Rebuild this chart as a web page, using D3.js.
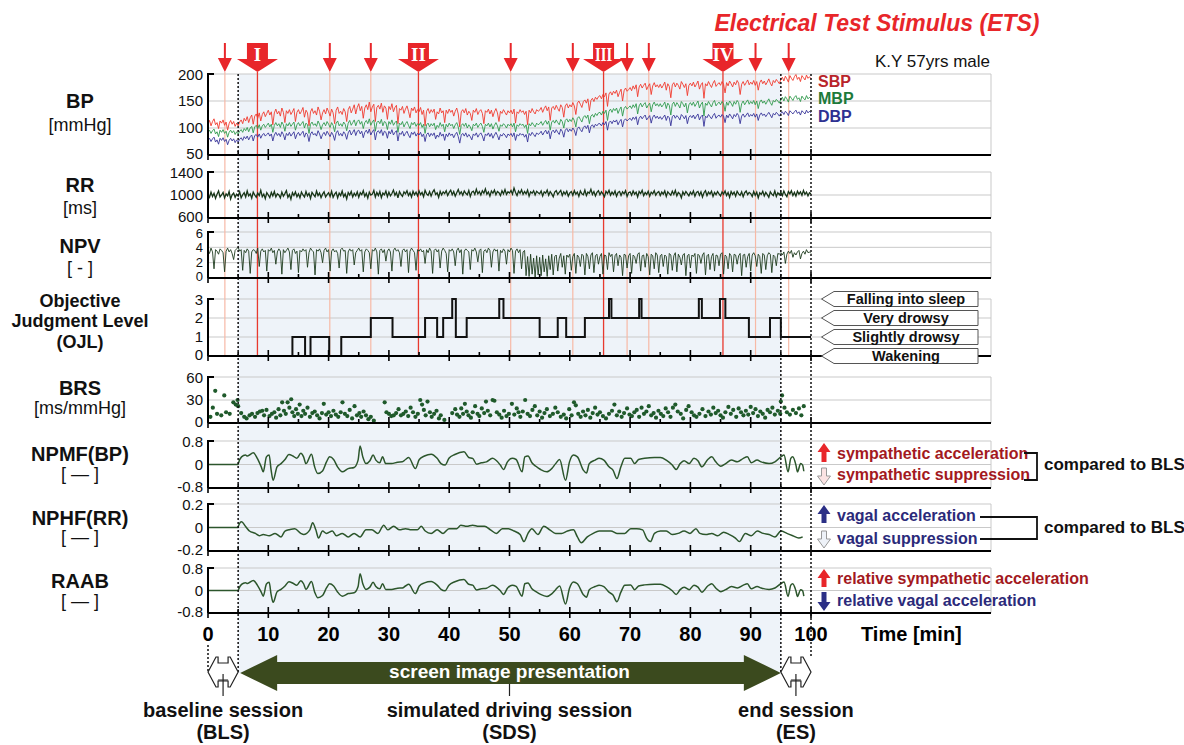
<!DOCTYPE html>
<html>
<head>
<meta charset="utf-8">
<script src="https://cdn.jsdelivr.net/npm/d3@7"></script>
<style>
  body { margin: 0; background: #fff; }
  svg { display: block; font-family: "Liberation Sans", Arial, sans-serif; }
</style>
</head>
<body>
<svg id="chart" width="1184" height="745"></svg>
<script>
// ---------------- data ----------------
const step = 0.25; // minutes between samples of the beat-to-beat traces

const sbp = [
  108,114,104,112,117,106,110,99,113,109,115,105,111,96,108,114,107,112,103,109,
  104,111,115,108,118,113,121,110,119,124,107,122,126,118,128,113,125,130,121,127,
  133,124,130,106,128,135,126,131,122,137,129,110,132,127,134,125,130,136,112,129,
  134,126,131,138,120,133,128,104,130,136,127,132,124,139,131,115,128,134,126,137,
  130,122,135,128,108,133,139,127,131,125,136,130,112,134,140,128,135,143,126,138,
  145,132,140,118,137,143,134,148,130,139,144,112,138,142,135,146,129,141,137,116,
  140,134,145,130,138,142,108,136,133,140,127,135,141,131,119,137,132,139,128,134,
  130,138,125,133,104,131,136,127,134,129,135,116,130,126,137,128,132,110,133,127,
  135,129,133,122,131,137,126,102,130,134,128,136,124,131,127,114,133,129,136,125,
  131,134,127,108,132,129,135,126,133,121,130,136,128,112,131,127,134,129,124,132,
  128,133,126,135,109,130,127,134,129,132,125,131,106,133,128,136,130,126,134,131,
  133,138,129,136,141,132,139,114,137,140,134,142,136,131,143,138,120,141,145,137,
  143,139,147,141,125,146,150,144,138,149,152,146,154,132,151,155,149,157,153,158,
  160,154,162,158,165,140,163,167,161,168,164,170,158,166,172,150,169,174,168,171,
  175,169,178,172,180,158,176,181,174,179,183,171,177,182,162,178,184,176,180,175,
  181,174,179,185,170,182,177,156,180,184,176,183,179,172,186,181,175,182,160,179,
  183,178,185,176,181,187,172,180,184,155,182,178,186,180,175,183,188,177,181,184,
  179,186,181,165,184,178,187,182,176,185,180,188,183,162,181,186,179,184,189,180,
  185,181,188,179,186,170,184,189,182,187,180,185,191,183,178,188,184,190,186,182,
  190,194,187,196,191,185,197,192,188,195,199,190,194,186,197,193,189,198,192,195,
  191
];
const mbp = [
  93,96,90,95,98,89,93,84,96,92,97,90,94,83,92,96,91,95,88,93,
  89,94,97,92,99,95,101,93,100,103,91,102,105,99,106,96,104,107,101,105,
  109,102,107,92,105,110,104,108,101,111,106,94,108,104,110,103,107,111,96,106,
  110,104,108,112,100,109,106,90,107,111,105,108,103,113,107,97,106,110,104,112,
  107,101,110,105,93,109,113,104,108,103,111,107,95,109,114,105,110,115,104,112,
  115,107,112,99,110,114,108,117,105,111,115,94,110,113,108,116,104,112,110,97,
  112,107,115,105,110,113,92,109,106,112,102,108,112,105,99,110,106,111,103,108,
  105,110,101,107,90,106,109,102,108,104,109,97,105,101,110,103,107,93,107,102,
  109,104,107,99,106,110,102,88,105,108,103,109,100,106,102,95,107,104,109,101,
  106,109,103,92,107,104,109,102,108,98,105,110,104,94,106,103,108,105,100,107,
  104,108,102,109,93,106,103,108,105,107,101,106,90,108,104,110,106,102,109,106,
  108,112,105,110,114,107,113,96,111,114,109,115,110,106,116,112,100,114,117,111,
  116,112,119,114,102,118,121,116,111,120,123,118,124,108,122,125,120,127,123,128,
  129,124,131,127,133,114,131,135,129,136,132,137,127,134,139,122,136,140,135,138,
  141,136,143,138,145,126,141,146,139,144,147,137,142,146,130,143,148,141,145,140,
  145,139,143,148,136,146,142,124,144,148,140,147,143,137,149,145,139,146,128,143,
  147,142,148,140,145,150,137,144,148,122,146,142,149,144,139,147,151,141,145,148,
  143,149,145,131,148,142,150,146,140,149,144,151,147,129,145,150,143,148,152,144,
  149,145,151,143,150,136,148,152,146,150,144,149,154,147,142,151,148,153,150,146,
  153,157,150,158,154,148,159,155,151,157,160,153,156,149,159,155,152,160,154,157,
  154
];
const dbp = [
  78,81,75,80,83,74,78,70,81,77,82,75,79,69,77,81,76,80,73,78,
  74,79,82,77,84,80,85,78,84,87,76,86,88,83,89,81,87,90,85,88,
  91,85,89,76,87,92,86,90,84,93,88,78,90,86,92,85,89,93,80,88,
  92,86,90,94,83,91,88,75,89,93,87,90,85,95,89,80,88,92,86,94,
  89,84,92,87,77,91,95,86,90,85,93,89,79,91,96,87,92,97,86,94,
  96,89,94,82,92,96,90,98,87,93,97,78,92,95,90,97,86,94,92,81,
  94,89,97,87,92,95,76,91,88,94,85,90,94,87,82,92,88,93,85,90,
  87,92,84,89,75,88,91,84,90,86,91,80,87,83,92,85,89,77,89,84,
  91,86,89,82,88,92,84,72,87,90,85,91,83,88,84,78,89,86,91,83,
  88,91,85,76,89,86,91,84,90,81,87,92,86,78,88,85,90,87,82,89,
  86,90,84,91,77,88,85,90,87,89,83,88,74,90,86,92,88,84,91,88,
  90,94,87,92,96,89,95,80,93,96,91,97,92,88,98,94,83,96,99,93,
  98,94,100,96,86,99,102,97,93,101,104,99,105,91,103,106,101,107,104,108,
  108,104,110,106,112,96,110,113,108,114,111,115,106,112,116,102,114,117,113,116,
  118,114,120,116,121,106,118,122,117,121,124,115,119,123,109,120,124,118,122,117,
  121,116,120,124,114,122,119,104,121,124,118,123,120,115,125,122,117,123,108,120,
  123,119,124,117,122,126,115,121,124,103,122,119,125,121,117,123,127,118,122,124,
  120,125,122,110,124,119,126,122,117,125,121,127,123,108,122,126,120,124,128,121,
  125,122,127,120,126,114,124,128,123,126,121,125,129,124,119,127,124,129,126,122,
  127,130,125,131,128,123,132,129,126,130,133,127,130,124,132,129,126,133,128,131,
  128
];
const rr = [
  1005,960,1050,975,1030,940,1015,1070,965,1000,1045,950,1020,985,1060,930,1005,1035,960,1015,
  980,1055,950,1005,1040,965,1070,985,1020,945,1050,1000,960,1035,990,1080,970,1015,935,1040,
  1000,955,1045,985,1060,965,1020,1000,950,1050,980,1025,1075,960,1010,925,1040,990,1055,970,
  1020,950,1050,1000,965,1060,985,1030,940,1045,1005,970,1070,990,1035,955,1015,1055,965,1005,
  1040,975,1065,960,1015,1050,950,1035,990,1070,970,1020,930,1045,1000,1060,965,1030,985,1055,
  960,1040,1005,1075,975,1030,945,1050,1000,1015,1080,965,1045,990,1060,955,1035,1005,1070,970,
  1050,985,1025,1085,995,1045,950,1060,1010,975,1055,1020,1075,990,1040,965,1065,1005,1050,985,
  1070,1005,1045,970,1080,1020,995,1060,980,1050,1090,1010,1040,960,1065,1000,1055,1025,1075,990,
  1045,1085,1005,1060,980,1040,1095,1015,1055,995,1070,1030,1005,1080,975,1050,1065,1010,1100,1020,
  1060,1000,1075,1030,1105,1015,1055,980,1070,1030,1085,1005,1060,1040,990,1075,1020,1095,1010,1055,
  1035,1080,1015,1120,1045,990,1070,1030,1090,1010,1060,1020,1085,980,1055,1030,1075,1000,1065,1040,
  1020,1070,985,1055,1030,1085,995,1060,1020,970,1050,1075,1010,1045,1080,990,1055,1015,1065,980,
  1035,1060,995,1075,1015,1050,975,1070,1020,1005,1085,990,1050,1030,1100,1010,1060,985,1045,1075,
  1005,1055,1020,970,1065,1025,1080,995,1050,1010,1070,980,1045,1060,990,1055,1020,1075,975,1040,
  1055,995,1070,1015,1050,965,1060,1025,1080,990,1045,1010,1065,980,1050,1020,1075,995,1040,1060,
  990,1050,1015,1070,975,1055,1025,995,1065,1010,1080,985,1045,1020,950,1055,1005,1060,1025,985,
  1050,1010,1070,980,1045,1060,995,1055,965,1040,1075,990,1050,1015,1065,975,1045,1005,1060,1020,
  985,1055,1015,1070,990,1045,960,1060,1010,1050,980,1065,1020,995,1055,970,1040,1070,1005,1045,
  1025,975,1060,995,1050,950,1040,1010,1065,985,1045,1005,960,1055,1015,990,1070,975,1040,1005,
  1050,990,1070,1010,970,1060,1020,1075,990,1045,980,1065,1015,1055,995,1080,1010,1050,985,1040,
  1020
];
const npv = [
  3.6,3.2,3.9,3.4,1.2,3.7,3.5,3.1,3.8,3.6,3.3,0.8,3.5,3.9,3.4,3.7,3.2,2.4,3.6,3.8,
  4.0,3.5,3.7,1.0,3.6,3.3,3.8,3.5,0.6,3.4,3.7,3.6,3.2,3.9,1.5,3.5,3.8,3.4,3.6,0.9,
  3.7,3.5,3.9,3.3,3.6,1.8,3.4,3.8,3.5,0.5,3.7,3.3,3.6,3.9,3.4,1.1,3.6,3.8,3.2,3.5,
  0.7,3.6,3.4,3.8,3.5,3.7,1.4,3.3,3.9,3.6,3.4,0.4,3.7,3.5,3.8,3.3,2.0,3.6,3.9,3.4,
  3.7,0.9,3.5,3.8,3.4,3.6,3.2,1.3,3.7,3.9,3.5,3.6,0.6,3.4,3.8,3.5,3.7,1.7,3.3,3.6,
  3.9,3.5,3.7,0.8,3.4,3.8,3.6,3.3,1.2,3.7,3.5,3.9,3.4,0.5,3.6,3.8,3.3,3.7,2.2,3.5,
  3.8,3.4,0.9,3.6,3.9,3.5,3.7,3.3,1.5,3.6,3.8,3.4,3.7,0.7,3.5,3.9,3.6,3.3,1.0,3.7,
  3.5,3.8,3.4,3.6,1.9,3.7,3.3,3.9,3.5,0.6,3.6,3.8,3.4,3.7,1.3,3.5,3.9,3.6,3.2,0.8,
  3.7,3.5,3.8,3.4,1.6,3.6,3.9,3.3,3.7,0.5,3.5,3.8,3.6,3.4,1.1,3.7,3.5,3.9,3.4,2.1,
  3.6,3.8,0.7,3.5,3.7,3.3,3.9,3.6,1.4,3.4,3.8,3.5,3.7,0.9,3.6,3.3,3.8,3.5,1.8,3.7,
  3.4,3.9,3.6,0.6,3.5,3.8,3.3,3.7,1.2,3.4,3.6,0.3,2.8,0.2,3.1,0.5,2.6,0.1,2.9,0.4,
  2.7,0.3,3.0,0.8,2.5,0.2,2.9,1.1,3.1,0.4,2.8,3.0,0.9,2.6,3.2,1.4,2.9,0.5,3.0,2.7,
  3.1,1.0,2.8,3.2,0.6,3.0,2.7,1.5,3.1,2.9,0.4,3.2,2.8,1.2,3.0,3.3,0.7,2.9,3.1,1.8,
  2.8,3.2,0.5,3.0,2.9,1.1,3.3,2.8,3.1,0.8,2.9,3.2,1.6,3.0,2.7,0.3,3.1,3.0,1.3,2.9,
  3.2,0.6,3.0,2.8,1.9,3.1,3.3,0.9,2.9,3.0,1.4,3.2,2.8,0.4,3.1,2.9,1.2,3.3,3.0,0.7,
  2.9,3.1,1.5,3.0,2.8,0.5,3.2,3.0,1.0,2.9,3.3,0.8,3.1,2.7,1.7,3.0,3.2,0.3,2.9,3.1,
  1.3,3.0,2.8,3.2,0.6,3.1,2.9,1.9,3.0,3.3,0.4,2.9,3.1,1.1,2.8,3.2,0.9,3.0,2.9,1.6,
  3.1,3.3,0.5,3.0,2.8,1.2,3.2,2.9,0.8,3.1,3.0,1.8,2.9,3.2,0.3,3.0,3.1,1.4,2.8,3.2,
  0.9,3.0,3.3,2.9,1.5,3.1,2.8,0.6,3.2,3.0,1.1,2.9,3.3,3.1,0.7,3.0,2.8,1.6,3.2,3.1,
  3.3,3.0,3.4,1.9,3.1,3.5,3.2,3.6,2.7,3.3,3.0,3.4,3.6,2.5,3.2,3.5,3.1,3.7,3.3,3.4,
  3.2
];

// objective judgment level: level held from each time until the next
const ojlTime  = [0,14.0,16.1,17.0,20.1,22.1,27.0,30.6,36.0,38.0,39.0,40.5,41.1,42.9,48.3,49.0,55.0,58.0,59.4,62.5,66.5,66.9,71.5,71.9,81.4,81.9,84.9,85.8,89.7,93.2,95.0,100];
const ojlLevel = [0,1,0,1,0,1,2,1,2,1,2,3,1,2,3,2,1,2,1,2,3,2,3,2,3,2,3,2,1,2,1,1];
const ojlNames = ['Wakening', 'Slightly drowsy', 'Very drowsy', 'Falling into sleep'];

// baroreflex sensitivity [time, value]
const brs = [
  [0.4,8],[0.8,20],[1.2,42],[1.5,12],[2.2,10],[2.7,36],[3.0,14],[3.6,12],[4.2,27],[4.6,24],[4.9,30],[5.0,22],
  [5.5,13],[6.0,8],[6.4,6],[6.9,10],[7.3,12],[7.8,8],[8.2,13],[8.6,15],[9.0,16],[9.3,10],[9.7,17],
  [10.2,9],[10.6,12],[11.0,14],[11.3,7],[11.7,18],[12.0,10],[12.3,27],[12.6,16],[12.9,12],[13.2,27],[13.5,20],[13.8,31],[14.0,14],[14.3,9],[14.6,18],[14.9,12],
  [15.2,24],[15.5,9],[15.8,16],[16.1,12],[16.5,20],[16.9,8],[17.3,13],[17.7,15],[18.1,10],[18.5,6],[18.9,13],[19.2,25],[19.6,11],[20.0,14],
  [20.4,9],[20.8,16],[21.2,11],[21.6,8],[22.0,14],[22.3,27],[22.7,12],[23.1,9],[23.5,17],[23.9,6],[24.3,22],[24.7,10],[25.1,13],[25.4,8],
  [25.8,15],[26.2,10],[26.6,5],[27.0,8],[27.5,3],[29.3,27],[29.6,14],[30.0,12],[30.4,9],[30.8,10],[31.2,13],
  [31.6,18],[32.0,10],[32.4,12],[32.8,15],[33.2,9],[33.6,20],[34.0,14],[34.4,8],[34.8,12],
  [35.2,30],[35.5,24],[35.8,17],[36.1,10],[36.4,28],[36.8,14],[37.1,8],[37.5,12],[37.9,16],[38.3,6],[38.6,10],[39.2,4],
  [40.5,13],[41.0,18],[41.3,11],[41.7,8],[42.0,19],[42.3,12],[42.6,25],[42.9,15],[43.2,10],[43.6,7],[43.9,14],[44.3,22],[44.7,12],[45.0,9],
  [45.4,19],[45.8,13],[46.1,28],[46.4,16],[46.8,10],[47.2,30],[47.5,29],[47.9,14],[48.3,11],[48.7,7],[49.1,16],[49.5,9],[49.9,12],
  [50.4,25],[50.8,11],[51.2,19],[51.5,14],[51.8,8],[52.2,15],[52.6,30],[53.0,12],[53.4,9],[53.8,17],[54.2,22],[54.6,10],[55.0,15],
  [55.4,7],[55.8,13],[56.2,18],[56.7,9],[57.2,12],[57.6,20],[58.0,14],[58.5,8],[59.0,11],[59.4,6],[59.9,18],[60.3,10],
  [60.7,27],[61.0,23],[61.4,12],[61.8,8],[62.2,15],[62.6,10],[63.0,17],[63.4,7],[63.8,13],[64.2,20],[64.6,11],[65.0,14],
  [65.5,9],[66.0,6],[66.5,12],[67.0,16],[67.4,24],[67.8,10],[68.2,15],[68.6,8],[69.0,13],[69.5,19],[69.9,11],
  [70.3,9],[70.7,14],[71.1,17],[71.5,8],[71.9,20],[72.3,12],[72.7,15],[73.1,22],[73.5,10],[73.9,13],[74.3,7],[74.7,16],
  [75.1,12],[75.5,9],[75.9,19],[76.3,14],[76.7,8],[77.1,20],[77.5,24],[77.9,15],[78.4,12],[78.8,6],[79.3,17],[79.7,22],
  [80.2,14],[80.6,10],[81.0,8],[81.5,12],[82.0,18],[82.5,9],[83.0,15],[83.4,11],[83.8,20],[84.2,13],[84.6,16],
  [85.0,10],[85.4,7],[85.8,14],[86.3,21],[86.7,12],[87.1,17],[87.6,8],[88.0,19],[88.4,14],[88.8,10],[89.2,16],[89.6,11],
  [90.0,21],[90.4,13],[90.8,18],[91.2,9],[91.6,15],[92.0,12],[92.4,7],[92.8,17],[93.2,14],[93.6,20],[94.0,11],[94.5,16],[94.9,12],
  [95.0,28],[95.2,36],[95.6,20],[96.0,14],[96.5,11],[97.0,17],[97.5,13],[98.0,19],[98.4,10],[98.8,22]
];

// normalized power of mid-frequency BP [time, value]
const npmf = [
  [0,0],[5,0],[5.03,0.03],[5.56,0.26],[6.21,0.32],[6.54,0.29],[7.52,0.40],[8.18,0.21],[8.83,-0.08],[9.16,-0.25],
  [9.69,0.26],[10.14,0.32],[10.47,-0.19],[10.80,-0.54],[11.45,-0.08],[12.11,0.03],[12.77,0.17],[13.42,0.34],[14.08,0.29],[14.73,0.21],
  [15.39,0.38],[15.85,0.26],[16.24,0.03],[17.16,0.35],[17.68,-0.08],[18.21,-0.31],[18.99,-0.22],[19.65,0.09],[20.17,0.26],[20.83,0.17],
  [21.48,-0.08],[22.27,-0.25],[23.25,-0.14],[24.23,-0.10],[24.89,0.15],[25.22,0.63],[25.67,0.26],[26.20,0.03],[26.85,0.13],[27.38,0.32],
  [27.84,0.15],[28.49,0.06],[28.95,0.26],[29.47,0.03],[30.46,0.03],[31.44,0.08],[32.23,0.09],[32.75,0.17],[33.28,0.24],[34.39,-0.14],
  [35.04,0.17],[35.90,0.29],[37.01,0.35],[38.00,0.21],[38.65,0.03],[39.31,-0.02],[39.96,0.21],[40.94,0.34],[42.45,0.43],[43.24,0.24],
  [43.89,0.21],[44.55,0.01],[45.33,0.06],[46.18,0.09],[47.17,0.21],[48.48,-0.02],[49.00,-0.17],[49.66,0.09],[50.44,0.21],[51.10,0.17],
  [52.08,-0.25],[52.54,0.26],[53.07,0.29],[53.72,0.06],[54.38,-0.06],[55.16,-0.17],[56.21,-0.25],[57.00,-0.14],[57.65,0.03],[58.31,0.17],
  [59.29,-0.54],[59.95,0.09],[60.60,0.32],[61.26,0.26],[62.24,-0.19],[62.77,-0.29],[63.23,0.03],[64.21,0.15],[64.86,0.21],[65.65,0.15],
  [66.50,-0.08],[67.16,-0.19],[67.81,-0.48],[68.47,-0.08],[69.12,0.21],[70.10,0.21],[70.76,0.03],[71.41,0.17],[72.40,0.21],[74.04,0.24],
  [75.02,0.24],[76.00,0.15],[76.99,-0.02],[77.64,-0.17],[78.30,0.03],[78.95,0.13],[79.80,0.03],[80.59,0.21],[81.25,0.13],[81.90,-0.08],
  [82.88,0.17],[83.54,0.26],[84.20,0.09],[85.05,-0.06],[85.84,0.03],[86.82,0.15],[87.80,0.09],[88.78,0.21],[89.44,0.26],[90.10,0.06],
  [91.07,0.15],[91.73,0.09],[93.04,0.03],[94.02,0.09],[95.00,0.26],[95.53,0.32],[96.19,-0.25],[96.65,0.21],[96.97,0.26],[97.50,-0.02],
  [97.76,-0.25],[98.28,0.03],[98.61,-0.02],[98.81,-0.23]
];

// normalized power of high-frequency RR [time, value]
const nphf = [
  [0,0],[5,0],[5.03,0.01],[5.56,0.05],[6.21,0.01],[6.87,-0.03],[7.85,-0.05],[8.51,-0.07],[9.16,-0.06],[10.14,-0.07],
  [11.13,-0.05],[12.11,-0.08],[12.77,-0.03],[13.42,-0.02],[14.40,-0.01],[15.39,-0.05],[15.85,-0.06],[16.89,-0.02],[17.35,0.04],[17.88,-0.02],
  [18.34,-0.09],[18.99,-0.03],[19.65,-0.05],[20.63,-0.03],[21.28,-0.07],[22.27,-0.05],[23.25,-0.08],[24.23,-0.05],[25.22,-0.08],[26.20,-0.02],
  [27.18,-0.02],[28.17,-0.05],[29.15,0.02],[29.80,-0.02],[30.79,0.01],[31.77,-0.02],[32.75,-0.01],[33.74,-0.02],[34.72,-0.02],[35.37,0.01],
  [36.03,-0.03],[37.01,-0.05],[38.00,-0.02],[38.98,-0.05],[39.96,-0.01],[41.27,-0.01],[41.93,0.02],[42.91,0.01],[43.89,0.02],[44.88,0.01],
  [45.86,0.01],[46.84,-0.02],[47.83,-0.05],[48.81,-0.01],[49.79,-0.01],[50.77,-0.03],[51.76,-0.06],[52.41,-0.12],[53.07,-0.05],[53.72,-0.01],
  [54.71,-0.06],[55.69,0.01],[56.67,-0.02],[57.65,-0.05],[58.64,-0.05],[59.62,-0.03],[60.60,-0.02],[61.26,-0.08],[61.91,-0.13],[62.90,-0.08],
  [63.88,-0.05],[64.86,-0.03],[65.85,-0.03],[66.83,-0.03],[67.81,-0.05],[69.12,-0.05],[70.10,-0.01],[71.09,-0.01],[72.07,-0.02],[72.73,-0.09],
  [73.38,-0.12],[74.04,-0.05],[75.02,-0.03],[76.00,-0.03],[76.99,-0.06],[77.97,-0.05],[78.95,-0.03],[79.93,-0.05],[80.92,-0.01],[81.57,-0.05],
  [82.56,-0.06],[83.54,-0.05],[84.52,-0.07],[85.51,-0.04],[86.49,-0.06],[87.47,-0.09],[88.13,-0.12],[89.11,-0.05],[90.10,-0.07],[91.08,-0.03],
  [92.07,-0.05],[93.05,-0.06],[94.03,-0.08],[95.02,-0.03],[96.00,-0.05],[96.98,-0.07],[97.97,-0.09],[98.62,-0.08]
];

// relative autonomic activity balance [time, value]
const raab = [
  [0,0],[5,0],[5.03,0.02],[5.56,0.22],[6.21,0.28],[6.54,0.25],[7.52,0.36],[8.18,0.19],[8.83,-0.06],[9.16,-0.20],
  [9.69,0.23],[10.14,0.29],[10.47,-0.15],[10.80,-0.42],[11.45,-0.05],[12.11,0.04],[12.77,0.16],[13.42,0.31],[14.08,0.26],[14.73,0.19],
  [15.39,0.35],[15.85,0.24],[16.24,0.04],[17.16,0.32],[17.68,-0.05],[18.21,-0.26],[18.99,-0.18],[19.65,0.09],[20.17,0.24],[20.83,0.16],
  [21.48,-0.05],[22.27,-0.20],[23.25,-0.11],[24.23,-0.08],[24.89,0.14],[25.22,0.60],[25.67,0.24],[26.20,0.04],[26.85,0.12],[27.38,0.29],
  [27.84,0.14],[28.49,0.06],[28.95,0.24],[29.47,0.04],[30.46,0.04],[31.44,0.08],[32.23,0.09],[32.75,0.16],[33.28,0.22],[34.39,-0.11],
  [35.04,0.16],[35.90,0.27],[37.01,0.32],[38.00,0.19],[38.65,0.04],[39.31,-0.01],[39.96,0.19],[40.94,0.31],[42.45,0.39],[43.24,0.22],
  [43.89,0.19],[44.55,0.02],[45.33,0.06],[46.18,0.08],[47.17,0.19],[48.48,-0.01],[49.00,-0.14],[49.66,0.08],[50.44,0.19],[51.10,0.15],
  [52.08,-0.20],[52.54,0.24],[53.07,0.27],[53.72,0.06],[54.38,-0.04],[55.16,-0.14],[56.21,-0.21],[57.00,-0.12],[57.65,0.03],[58.31,0.16],
  [59.29,-0.48],[59.95,0.08],[60.60,0.30],[61.26,0.24],[62.24,-0.15],[62.77,-0.24],[63.23,0.03],[64.21,0.14],[64.86,0.19],[65.65,0.14],
  [66.50,-0.06],[67.16,-0.16],[67.81,-0.40],[68.47,-0.06],[69.12,0.19],[70.10,0.20],[70.76,0.03],[71.41,0.16],[72.40,0.20],[74.04,0.22],
  [75.02,0.22],[76.00,0.14],[76.99,-0.01],[77.64,-0.14],[78.30,0.03],[78.95,0.12],[79.80,0.03],[80.59,0.19],[81.25,0.12],[81.90,-0.06],
  [82.88,0.16],[83.54,0.24],[84.20,0.09],[85.05,-0.04],[85.84,0.03],[86.82,0.14],[87.80,0.09],[88.78,0.19],[89.44,0.24],[90.10,0.06],
  [91.07,0.14],[91.73,0.09],[93.04,0.04],[94.02,0.09],[95.00,0.24],[95.53,0.30],[96.19,-0.21],[96.65,0.19],[96.97,0.24],[97.50,-0.01],
  [97.76,-0.21],[98.28,0.03],[98.61,-0.01],[98.81,-0.20]
];

// electrical test stimuli (minutes)
const etsSmall = [2.8, 20.2, 27.0, 50.2, 60.5, 69.5, 73.1, 90.8, 96.3];
const etsLarge = [8.2, 34.9, 65.6, 85.4];
const etsLargeNames = ['I', 'II', 'III', 'IV'];

const timeTicks = [0, 10, 20, 30, 40, 50, 60, 70, 80, 90, 100];
const minorTicks = [5, 15, 25, 35, 45, 55, 65, 75, 85, 95];
const sessionBounds = [0, 5, 95, 100];

// ---------------- layout ----------------
const svg = d3.select('#chart');
const x = d3.scaleLinear().domain([0, 100]).range([208, 811]);
const xEnd = 991;
const bandBottom = 673;

const panels = [
  { id: 'bp', top: 74, bottom: 155, domain: [50, 200], ticks: [200, 150, 100, 50], tickSize: 15,
    label: [['BP', 20, 108], ['[mmHg]', 0, 131]] },
  { id: 'rr', top: 172, bottom: 218, domain: [600, 1400], ticks: [1400, 1000, 600], tickSize: 15,
    label: [['RR', 20, 192], ['[ms]', 0, 214]] },
  { id: 'npv', top: 232, bottom: 278, domain: [0, 6], ticks: [6, 4, 2, 0], tickSize: 13,
    label: [['NPV', 20, 253], ['[ - ]', 0, 274]] },
  { id: 'ojl', top: 299, bottom: 356, domain: [0, 3], ticks: [3, 2, 1, 0], tickSize: 15,
    label: [['Objective', 18, 307], ['Judgment Level', 18, 327], ['(OJL)', 18, 348]] },
  { id: 'brs', top: 377, bottom: 423, domain: [0, 60], ticks: [60, 30, 0], tickSize: 15,
    label: [['BRS', 20, 395], ['[ms/mmHg]', 0, 414]] },
  { id: 'npmf', top: 441, bottom: 488, domain: [-0.8, 0.8], ticks: [0.8, 0, -0.8], tickSize: 15,
    label: [['NPMF(BP)', 20, 461], ['[ \u2014 ]', 0, 480]] },
  { id: 'nphf', top: 504, bottom: 551, domain: [-0.2, 0.2], ticks: [0.2, 0, -0.2], tickSize: 15,
    label: [['NPHF(RR)', 20, 525], ['[ \u2014 ]', 0, 543]] },
  { id: 'raab', top: 568, bottom: 613, domain: [-0.8, 0.8], ticks: [0.8, 0, -0.8], tickSize: 15,
    label: [['RAAB', 20, 588], ['[ \u2014 ]', 0, 607]] }
];
panels.forEach(p => { p.y = d3.scaleLinear().domain(p.domain).range([p.bottom, p.top]); });
const P = Object.fromEntries(panels.map(p => [p.id, p]));

// light blue band for the simulated driving session
svg.append('rect')
  .attr('x', x(5)).attr('y', 74)
  .attr('width', x(95) - x(5)).attr('height', bandBottom - 74)
  .attr('fill', '#eef3f9');

// grid + frames
panels.forEach(p => {
  const g = svg.append('g');
  g.selectAll('line.grid').data(p.ticks).enter().append('line')
    .attr('x1', x(0)).attr('x2', xEnd)
    .attr('y1', d => p.y(d)).attr('y2', d => p.y(d))
    .attr('stroke', '#c9c9c9').attr('stroke-width', 1);
  g.append('line').attr('x1', xEnd).attr('x2', xEnd)
    .attr('y1', p.top).attr('y2', p.bottom)
    .attr('stroke', '#c9c9c9');
});

// red lines of the electrical test stimuli (BP .. OJL)
svg.selectAll('line.etsS').data(etsSmall).enter().append('line')
  .attr('x1', d => x(d)).attr('x2', d => x(d))
  .attr('y1', 72).attr('y2', P.ojl.bottom)
  .attr('stroke', '#f7b9a6').attr('stroke-width', 1.2);
svg.selectAll('line.etsL').data(etsLarge).enter().append('line')
  .attr('x1', d => x(d)).attr('x2', d => x(d))
  .attr('y1', 72).attr('y2', P.ojl.bottom)
  .attr('stroke', '#e8392e').attr('stroke-width', 1.3);

// ---------------- traces ----------------
const sampled = (p) => d3.line().x((d, i) => x(i * step)).y(d => p.y(d));
const paired = (p) => d3.line().x(d => x(d[0])).y(d => p.y(d[1])).curve(d3.curveMonotoneX);

[[sbp, '#f03a2e'], [mbp, '#2f9a4c'], [dbp, '#373399']].forEach(([arr, c]) => {
  svg.append('path').datum(arr).attr('d', sampled(P.bp))
    .attr('fill', 'none').attr('stroke', c).attr('stroke-width', 0.9);
});
svg.append('path').datum(rr).attr('d', sampled(P.rr))
  .attr('fill', 'none').attr('stroke', '#173517').attr('stroke-width', 1.3);
svg.append('path').datum(npv).attr('d', sampled(P.npv))
  .attr('fill', 'none').attr('stroke', '#1d3b1d').attr('stroke-width', 0.9);

svg.append('path').datum(ojlTime.map((t, i) => [t, ojlLevel[i]]))
  .attr('d', d3.line().x(d => x(d[0])).y(d => P.ojl.y(d[1])).curve(d3.curveStepAfter))
  .attr('fill', 'none').attr('stroke', '#111').attr('stroke-width', 2);

svg.selectAll('circle.brs').data(brs).enter().append('circle')
  .attr('cx', d => x(d[0])).attr('cy', d => P.brs.y(d[1]))
  .attr('r', 2.1).attr('fill', '#1f5a2b');

[[npmf, P.npmf], [nphf, P.nphf], [raab, P.raab]].forEach(([arr, p]) => {
  svg.append('path').datum(arr).attr('d', paired(p))
    .attr('fill', 'none').attr('stroke', '#2c562c').attr('stroke-width', 1.5);
});

// ---------------- axes ----------------
panels.forEach(p => {
  const g = svg.append('g');
  // bottom time axis
  g.append('line').attr('x1', x(0)).attr('x2', xEnd)
    .attr('y1', p.bottom).attr('y2', p.bottom)
    .attr('stroke', '#000').attr('stroke-width', 2);
  g.selectAll('line.maj').data(timeTicks).enter().append('line')
    .attr('x1', d => x(d)).attr('x2', d => x(d))
    .attr('y1', p.bottom - 6).attr('y2', p.bottom + 5)
    .attr('stroke', '#000').attr('stroke-width', 1.6);
  g.selectAll('line.min').data(minorTicks).enter().append('line')
    .attr('x1', d => x(d)).attr('x2', d => x(d))
    .attr('y1', p.bottom - 4).attr('y2', p.bottom)
    .attr('stroke', '#000').attr('stroke-width', 1.6);
  // left value axis
  g.append('path')
    .attr('d', `M${x(0) + 6},${p.top}H${x(0)}V${p.bottom}`)
    .attr('fill', 'none').attr('stroke', '#000').attr('stroke-width', 2);
  // top label nudged down, bottom label nudged up so stacked panels don't collide
  const lo = p.domain[0], hi = p.domain[1];
  const base = p.tickSize * 0.36;
  g.selectAll('text.tick').data(p.ticks).enter().append('text')
    .attr('x', x(0) - 5)
    .attr('y', d => p.y(d) + base + (d === hi ? 1 : d === lo ? -1.5 : 0))
    .attr('text-anchor', 'end').attr('font-size', p.tickSize).attr('fill', '#111')
    .text(d => d);
  // panel name (size 0 = regular unit line)
  p.label.forEach(([txt, size, yy]) => {
    g.append('text').attr('x', 80).attr('y', yy)
      .attr('text-anchor', 'middle')
      .attr('font-size', size || 18)
      .attr('font-weight', size ? 'bold' : 'normal')
      .attr('fill', '#111')
      .text(txt);
  });
});

// x tick labels + title
svg.selectAll('text.xt').data(timeTicks).enter().append('text')
  .attr('x', d => x(d)).attr('y', 641)
  .attr('text-anchor', 'middle').attr('font-size', 20).attr('font-weight', 'bold')
  .text(d => d);
svg.append('text').attr('x', 861).attr('y', 641)
  .attr('font-size', 20).attr('font-weight', 'bold').text('Time [min]');

// session boundaries (dotted)
const dotted = (t, y1, y2) => svg.append('line')
  .attr('x1', x(t)).attr('x2', x(t)).attr('y1', y1).attr('y2', y2)
  .attr('stroke', '#111').attr('stroke-width', 1.5).attr('stroke-dasharray', '2,2');
dotted(sessionBounds[1], 74, 673);
dotted(sessionBounds[2], 74, 673);
dotted(sessionBounds[3], 74, 658);
dotted(sessionBounds[0], 645, 672);

// ---------------- stimulus arrows + header ----------------
etsSmall.forEach(t => {
  const cx = x(t);
  svg.append('line').attr('x1', cx).attr('x2', cx).attr('y1', 43).attr('y2', 62)
    .attr('stroke', '#e8262a').attr('stroke-width', 2);
  svg.append('path').attr('d', `M${cx - 7},58L${cx + 7},58L${cx},72Z`).attr('fill', '#e8262a');
});
etsLarge.forEach((t, i) => {
  const cx = x(t);
  svg.append('path')
    .attr('d', `M${cx - 10.5},43H${cx + 10.5}V59H${cx + 20.5}L${cx},72L${cx - 20.5},59H${cx - 10.5}Z`)
    .attr('fill', '#e8262a');
  const lab = svg.append('text').attr('x', cx).attr('y', 61)
    .attr('text-anchor', 'middle').attr('fill', '#fff')
    .attr('font-family', '"Liberation Serif", "DejaVu Serif", serif')
    .attr('font-weight', 'bold').attr('font-size', 19)
    .text(etsLargeNames[i]);
  if (etsLargeNames[i].length > 2) lab.attr('textLength', 17).attr('lengthAdjust', 'spacingAndGlyphs');
});
svg.append('text').attr('x', 877).attr('y', 31)
  .attr('text-anchor', 'middle').attr('font-size', 23)
  .attr('font-weight', 'bold').attr('font-style', 'italic').attr('fill', '#e8262a')
  .text('Electrical Test Stimulus (ETS)');
svg.append('text').attr('x', 990).attr('y', 67)
  .attr('text-anchor', 'end').attr('font-size', 17).attr('fill', '#111')
  .text('K.Y 57yrs male');

// ---------------- right-hand legends ----------------
[['SBP', '#b8242a', 87], ['MBP', '#1d7a3a', 104], ['DBP', '#2e3192', 122]].forEach(([t, c, yy]) => {
  svg.append('text').attr('x', 818).attr('y', yy).attr('font-size', 16)
    .attr('font-weight', 'bold').attr('fill', c).text(t);
});

ojlNames.forEach((name, lvl) => {
  const cy = P.ojl.y(lvl);
  svg.append('path')
    .attr('d', `M821.5,${cy}L834,${cy - 7.5}H978V${cy + 7.5}H834Z`)
    .attr('fill', '#fff').attr('stroke', '#555').attr('stroke-width', 1);
  svg.append('text').attr('x', 906).attr('y', cy + 5)
    .attr('text-anchor', 'middle').attr('font-size', 14.5).attr('font-weight', 'bold')
    .attr('fill', '#111').text(name);
});

const arrowIcon = (cx, y1, y2, up, fill, stroke) => {
  const h = 9, hw = 6.5, sw = 2.5;
  const d = up
    ? `M${cx},${y1}L${cx + hw},${y1 + h}H${cx + sw}V${y2}H${cx - sw}V${y1 + h}H${cx - hw}Z`
    : `M${cx},${y2}L${cx + hw},${y2 - h}H${cx + sw}V${y1}H${cx - sw}V${y2 - h}H${cx - hw}Z`;
  svg.append('path').attr('d', d).attr('fill', fill)
    .attr('stroke', stroke || 'none').attr('stroke-width', 1);
};
const red = '#e8262a', navy = '#2b2f86', symText = '#a3191e', vagText = '#2b2a7a';
const legendRows = [
  [443, 462, true,  red,       null,   'sympathetic acceleration',          symText, 459],
  [468, 485, false, '#fbe3e3', '#999', 'sympathetic suppression',           symText, 480],
  [505, 523, true,  navy,      null,   'vagal acceleration',                vagText, 521],
  [531, 548, false, '#eef2f8', '#999', 'vagal suppression',                 vagText, 544],
  [569, 587, true,  red,       null,   'relative sympathetic acceleration', symText, 584],
  [592, 611, false, navy,      null,   'relative vagal acceleration',       vagText, 606]
];
legendRows.forEach(([y1, y2, up, f, s, txt, c, yy]) => {
  arrowIcon(824, y1, y2, up, f, s);
  svg.append('text').attr('x', 837).attr('y', yy).attr('font-size', 16)
    .attr('font-weight', 'bold').attr('fill', c).text(txt);
});
// brackets "compared to BLS"
svg.append('path').attr('d', 'M1024,453H1037V480H1024')
  .attr('fill', 'none').attr('stroke', '#111').attr('stroke-width', 1.8);
svg.append('path').attr('d', 'M980,517H1037V539H980')
  .attr('fill', 'none').attr('stroke', '#111').attr('stroke-width', 1.8);
[470, 533].forEach(yy => {
  svg.append('text').attr('x', 1044).attr('y', yy).attr('font-size', 17)
    .attr('font-weight', 'bold').attr('fill', '#111').text('compared to BLS');
});

// ---------------- session diagram ----------------
const hexagon = (a, b) => {
  const l = x(a), r = x(b), m = (l + r) / 2, cy = 672;
  svg.append('path')
    .attr('d', `M${l},${cy}L${l + 8},${cy - 15}H${m - 5}V${cy - 9}H${m + 5}V${cy - 15}H${r - 8}L${r},${cy}L${r - 8},${cy + 15}H${m + 5}V${cy + 9}H${m - 5}V${cy + 15}H${l + 8}Z`)
    .attr('fill', '#fff').attr('stroke', '#222').attr('stroke-width', 1.2);
  svg.append('path').attr('d', `M${m},${cy + 2}V${cy + 24}M${m - 5},${cy + 8}H${m + 5}`)
    .attr('fill', 'none').attr('stroke', '#222').attr('stroke-width', 1.2);
};
hexagon(sessionBounds[0], sessionBounds[1]);
hexagon(sessionBounds[2], sessionBounds[3]);

const aL = x(5) + 2, aR = x(95), cyA = 673, hd = 37;
svg.append('path')
  .attr('d', `M${aL},${cyA}L${aL + hd},${cyA - 18}V${cyA - 11}H${aR - hd}V${cyA - 18}L${aR},${cyA}L${aR - hd},${cyA + 18}V${cyA + 11}H${aL + hd}V${cyA + 18}Z`)
  .attr('fill', '#3b4a1e');
svg.append('text').attr('x', x(50)).attr('y', 678)
  .attr('text-anchor', 'middle').attr('font-size', 19).attr('font-weight', 'bold')
  .attr('fill', '#fff').text('screen image presentation');
svg.append('line').attr('x1', x(50)).attr('x2', x(50)).attr('y1', 684).attr('y2', 696)
  .attr('stroke', '#222').attr('stroke-width', 1.2);

[[x(2.5), 'baseline session', '(BLS)'], [x(50), 'simulated driving session', '(SDS)'], [x(97.5), 'end session', '(ES)']]
  .forEach(([cx, a, b]) => {
    svg.append('text').attr('x', cx).attr('y', 717).attr('text-anchor', 'middle')
      .attr('font-size', 20).attr('font-weight', 'bold').attr('fill', '#111').text(a);
    svg.append('text').attr('x', cx).attr('y', 739).attr('text-anchor', 'middle')
      .attr('font-size', 20).attr('font-weight', 'bold').attr('fill', '#111').text(b);
  });
</script>
</body>
</html>
